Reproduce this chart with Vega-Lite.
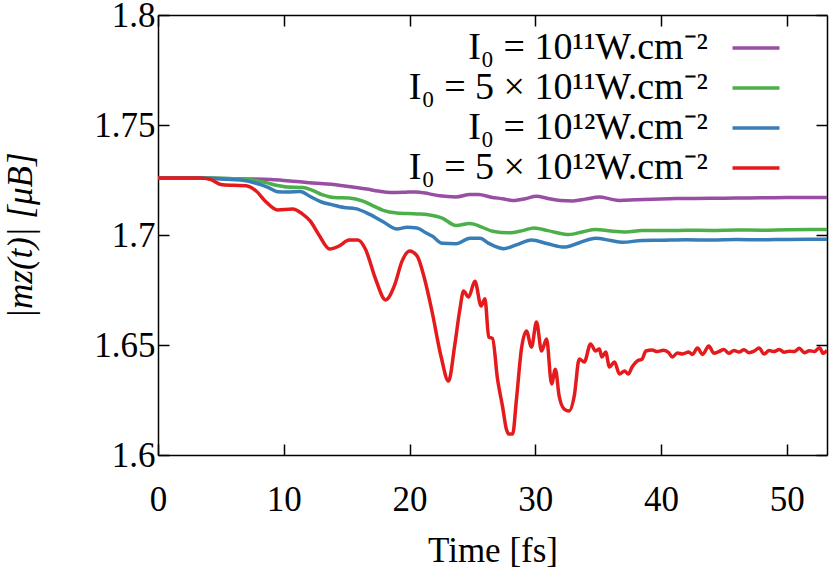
{
  "$schema": "https://vega.github.io/schema/vega-lite/v6.json",
  "width": 669,
  "height": 440,
  "autosize": {"type": "none"},
  "padding": {"left": 158, "top": 15, "right": 2, "bottom": 115},
  "background": "white",
  "config": {
    "view": {"stroke": null},
    "font": "Liberation Serif",
    "axis": {"grid": false, "domainColor": "black", "domainWidth": 1.5, "tickColor": "black", "tickWidth": 1.5, "labelColor": "black", "titleColor": "black", "labelFont": "Liberation Serif", "titleFont": "Liberation Serif", "labelFontSize": 35, "titleFontSize": 35, "titleFontWeight": "normal"}
  },
  "data": {"values": [
    {"s": "P", "t": 0, "v": 1.7259}, {"s": "P", "t": 3, "v": 1.7259}, {"s": "P", "t": 5, "v": 1.7257}, {"s": "P", "t": 7, "v": 1.7255}, {"s": "P", "t": 9, "v": 1.7252}, {"s": "P", "t": 10, "v": 1.7248}, {"s": "P", "t": 11, "v": 1.7243}, {"s": "P", "t": 12, "v": 1.7238}, {"s": "P", "t": 13.5, "v": 1.7232}, {"s": "P", "t": 15, "v": 1.7222}, {"s": "P", "t": 16.6, "v": 1.7209}, {"s": "P", "t": 17.5, "v": 1.72}, {"s": "P", "t": 18.5, "v": 1.7193}, {"s": "P", "t": 19.5, "v": 1.7194}, {"s": "P", "t": 20.5, "v": 1.7196}, {"s": "P", "t": 21.5, "v": 1.7188}, {"s": "P", "t": 22.4, "v": 1.7178}, {"s": "P", "t": 23.7, "v": 1.7173}, {"s": "P", "t": 24.8, "v": 1.7184}, {"s": "P", "t": 25.5, "v": 1.7184}, {"s": "P", "t": 26.5, "v": 1.7172}, {"s": "P", "t": 27.5, "v": 1.7164}, {"s": "P", "t": 28.2, "v": 1.7157}, {"s": "P", "t": 29.2, "v": 1.7165}, {"s": "P", "t": 30.1, "v": 1.7176}, {"s": "P", "t": 31, "v": 1.7166}, {"s": "P", "t": 32, "v": 1.7157}, {"s": "P", "t": 33, "v": 1.7155}, {"s": "P", "t": 34, "v": 1.7163}, {"s": "P", "t": 35.1, "v": 1.7173}, {"s": "P", "t": 36, "v": 1.7163}, {"s": "P", "t": 36.7, "v": 1.7157}, {"s": "P", "t": 38, "v": 1.716}, {"s": "P", "t": 40, "v": 1.7164}, {"s": "P", "t": 42, "v": 1.7166}, {"s": "P", "t": 44, "v": 1.7167}, {"s": "P", "t": 46, "v": 1.7168}, {"s": "P", "t": 48, "v": 1.7169}, {"s": "P", "t": 50, "v": 1.717}, {"s": "P", "t": 53.2, "v": 1.7171},
    {"s": "G", "t": 0, "v": 1.7259}, {"s": "G", "t": 4, "v": 1.7259}, {"s": "G", "t": 6, "v": 1.7256}, {"s": "G", "t": 7.5, "v": 1.725}, {"s": "G", "t": 8.6, "v": 1.7238}, {"s": "G", "t": 9.5, "v": 1.7225}, {"s": "G", "t": 10.3, "v": 1.7218}, {"s": "G", "t": 11.5, "v": 1.7216}, {"s": "G", "t": 12.2, "v": 1.7205}, {"s": "G", "t": 13.1, "v": 1.7182}, {"s": "G", "t": 14, "v": 1.717}, {"s": "G", "t": 15.2, "v": 1.7168}, {"s": "G", "t": 16.3, "v": 1.7154}, {"s": "G", "t": 17.2, "v": 1.713}, {"s": "G", "t": 17.9, "v": 1.7112}, {"s": "G", "t": 19, "v": 1.71}, {"s": "G", "t": 20.6, "v": 1.7096}, {"s": "G", "t": 21.5, "v": 1.7092}, {"s": "G", "t": 22.6, "v": 1.7077}, {"s": "G", "t": 23.7, "v": 1.7043}, {"s": "G", "t": 24.8, "v": 1.7052}, {"s": "G", "t": 25.8, "v": 1.7035}, {"s": "G", "t": 26.6, "v": 1.7017}, {"s": "G", "t": 27.9, "v": 1.701}, {"s": "G", "t": 29, "v": 1.702}, {"s": "G", "t": 29.9, "v": 1.7032}, {"s": "G", "t": 31, "v": 1.702}, {"s": "G", "t": 32.7, "v": 1.7002}, {"s": "G", "t": 33.8, "v": 1.7015}, {"s": "G", "t": 34.8, "v": 1.7025}, {"s": "G", "t": 36, "v": 1.7018}, {"s": "G", "t": 37.2, "v": 1.7014}, {"s": "G", "t": 38.5, "v": 1.702}, {"s": "G", "t": 40, "v": 1.702}, {"s": "G", "t": 42, "v": 1.7022}, {"s": "G", "t": 44, "v": 1.7021}, {"s": "G", "t": 46, "v": 1.7023}, {"s": "G", "t": 48, "v": 1.7022}, {"s": "G", "t": 50, "v": 1.7024}, {"s": "G", "t": 53.2, "v": 1.7025},
    {"s": "B", "t": 0, "v": 1.7259}, {"s": "B", "t": 3.4, "v": 1.7259}, {"s": "B", "t": 5, "v": 1.7255}, {"s": "B", "t": 6.6, "v": 1.725}, {"s": "B", "t": 7.8, "v": 1.7235}, {"s": "B", "t": 8.7, "v": 1.7218}, {"s": "B", "t": 9.5, "v": 1.7197}, {"s": "B", "t": 10.3, "v": 1.7195}, {"s": "B", "t": 11.3, "v": 1.7198}, {"s": "B", "t": 12.1, "v": 1.7175}, {"s": "B", "t": 13, "v": 1.715}, {"s": "B", "t": 13.8, "v": 1.7138}, {"s": "B", "t": 14.8, "v": 1.7125}, {"s": "B", "t": 15.7, "v": 1.712}, {"s": "B", "t": 16.8, "v": 1.7095}, {"s": "B", "t": 17.9, "v": 1.706}, {"s": "B", "t": 19, "v": 1.7027}, {"s": "B", "t": 19.8, "v": 1.7035}, {"s": "B", "t": 20.6, "v": 1.7032}, {"s": "B", "t": 21.3, "v": 1.701}, {"s": "B", "t": 21.8, "v": 1.6995}, {"s": "B", "t": 22.6, "v": 1.6962}, {"s": "B", "t": 23.7, "v": 1.696}, {"s": "B", "t": 24.8, "v": 1.6985}, {"s": "B", "t": 25.6, "v": 1.6985}, {"s": "B", "t": 26.3, "v": 1.6962}, {"s": "B", "t": 27.5, "v": 1.6938}, {"s": "B", "t": 28.5, "v": 1.6955}, {"s": "B", "t": 29.7, "v": 1.6977}, {"s": "B", "t": 31, "v": 1.696}, {"s": "B", "t": 32.3, "v": 1.6945}, {"s": "B", "t": 33.5, "v": 1.6965}, {"s": "B", "t": 34.8, "v": 1.6985}, {"s": "B", "t": 36, "v": 1.6975}, {"s": "B", "t": 36.9, "v": 1.6967}, {"s": "B", "t": 38.5, "v": 1.6975}, {"s": "B", "t": 40, "v": 1.6976}, {"s": "B", "t": 42, "v": 1.6978}, {"s": "B", "t": 44, "v": 1.6977}, {"s": "B", "t": 46, "v": 1.6979}, {"s": "B", "t": 48, "v": 1.6978}, {"s": "B", "t": 50, "v": 1.698}, {"s": "B", "t": 53.2, "v": 1.6981},
    {"s": "R", "t": 0, "v": 1.7259}, {"s": "R", "t": 3.3, "v": 1.7259}, {"s": "R", "t": 4.2, "v": 1.7252}, {"s": "R", "t": 5, "v": 1.723}, {"s": "R", "t": 6, "v": 1.7226}, {"s": "R", "t": 7, "v": 1.7224}, {"s": "R", "t": 7.8, "v": 1.72}, {"s": "R", "t": 8.6, "v": 1.715}, {"s": "R", "t": 9.5, "v": 1.7114}, {"s": "R", "t": 10.7, "v": 1.7118}, {"s": "R", "t": 11.5, "v": 1.7095}, {"s": "R", "t": 12.1, "v": 1.7064}, {"s": "R", "t": 12.8, "v": 1.7}, {"s": "R", "t": 13.65, "v": 1.6936}, {"s": "R", "t": 14.4, "v": 1.695}, {"s": "R", "t": 15.2, "v": 1.6977}, {"s": "R", "t": 15.9, "v": 1.6977}, {"s": "R", "t": 16.5, "v": 1.6935}, {"s": "R", "t": 17.3, "v": 1.68}, {"s": "R", "t": 18.1, "v": 1.6705}, {"s": "R", "t": 18.8, "v": 1.677}, {"s": "R", "t": 19.4, "v": 1.688}, {"s": "R", "t": 20, "v": 1.6927}, {"s": "R", "t": 20.6, "v": 1.6905}, {"s": "R", "t": 21.2, "v": 1.68}, {"s": "R", "t": 21.8, "v": 1.665}, {"s": "R", "t": 22.5, "v": 1.645}, {"s": "R", "t": 23.1, "v": 1.6336}, {"s": "R", "t": 23.6, "v": 1.65}, {"s": "R", "t": 24, "v": 1.666}, {"s": "R", "t": 24.3, "v": 1.6745}, {"s": "R", "t": 24.7, "v": 1.6718}, {"s": "R", "t": 25.2, "v": 1.679}, {"s": "R", "t": 25.7, "v": 1.6677}, {"s": "R", "t": 26, "v": 1.671}, {"s": "R", "t": 26.3, "v": 1.6536}, {"s": "R", "t": 26.6, "v": 1.653}, {"s": "R", "t": 27, "v": 1.6345}, {"s": "R", "t": 27.4, "v": 1.622}, {"s": "R", "t": 27.7, "v": 1.6118}, {"s": "R", "t": 27.9, "v": 1.6095}, {"s": "R", "t": 28.2, "v": 1.6095}, {"s": "R", "t": 28.5, "v": 1.625}, {"s": "R", "t": 28.9, "v": 1.6482}, {"s": "R", "t": 29.3, "v": 1.6564}, {"s": "R", "t": 29.7, "v": 1.649}, {"s": "R", "t": 30.1, "v": 1.6605}, {"s": "R", "t": 30.5, "v": 1.6473}, {"s": "R", "t": 30.9, "v": 1.6527}, {"s": "R", "t": 31.3, "v": 1.6323}, {"s": "R", "t": 31.6, "v": 1.639}, {"s": "R", "t": 31.9, "v": 1.6268}, {"s": "R", "t": 32.3, "v": 1.6209}, {"s": "R", "t": 32.7, "v": 1.62}, {"s": "R", "t": 33.1, "v": 1.6268}, {"s": "R", "t": 33.5, "v": 1.6436}, {"s": "R", "t": 33.9, "v": 1.6423}, {"s": "R", "t": 34.4, "v": 1.6505}, {"s": "R", "t": 34.8, "v": 1.6473}, {"s": "R", "t": 35.1, "v": 1.6482}, {"s": "R", "t": 35.3, "v": 1.6445}, {"s": "R", "t": 35.6, "v": 1.6468}, {"s": "R", "t": 35.9, "v": 1.64}, {"s": "R", "t": 36.3, "v": 1.6423}, {"s": "R", "t": 36.7, "v": 1.6368}, {"s": "R", "t": 37.1, "v": 1.6382}, {"s": "R", "t": 37.4, "v": 1.6368}, {"s": "R", "t": 37.7, "v": 1.64}, {"s": "R", "t": 38.1, "v": 1.6427}, {"s": "R", "t": 38.5, "v": 1.6436}, {"s": "R", "t": 38.8, "v": 1.6473}, {"s": "R", "t": 39.3, "v": 1.6477}, {"s": "R", "t": 39.7, "v": 1.647}, {"s": "R", "t": 40.2, "v": 1.6476}, {"s": "R", "t": 40.6, "v": 1.6466}, {"s": "R", "t": 40.9, "v": 1.6445}, {"s": "R", "t": 41.3, "v": 1.6464}, {"s": "R", "t": 41.7, "v": 1.6459}, {"s": "R", "t": 42.2, "v": 1.6468}, {"s": "R", "t": 42.5, "v": 1.6457}, {"s": "R", "t": 42.9, "v": 1.6486}, {"s": "R", "t": 43.3, "v": 1.6457}, {"s": "R", "t": 43.8, "v": 1.6495}, {"s": "R", "t": 44.2, "v": 1.6463}, {"s": "R", "t": 44.6, "v": 1.647}, {"s": "R", "t": 45, "v": 1.648}, {"s": "R", "t": 45.4, "v": 1.6462}, {"s": "R", "t": 45.8, "v": 1.6475}, {"s": "R", "t": 46.2, "v": 1.6468}, {"s": "R", "t": 46.6, "v": 1.6478}, {"s": "R", "t": 47, "v": 1.6465}, {"s": "R", "t": 47.4, "v": 1.6472}, {"s": "R", "t": 47.8, "v": 1.6486}, {"s": "R", "t": 48.2, "v": 1.6459}, {"s": "R", "t": 48.6, "v": 1.6475}, {"s": "R", "t": 49, "v": 1.647}, {"s": "R", "t": 49.4, "v": 1.648}, {"s": "R", "t": 49.8, "v": 1.6467}, {"s": "R", "t": 50.2, "v": 1.6472}, {"s": "R", "t": 50.6, "v": 1.647}, {"s": "R", "t": 51, "v": 1.6485}, {"s": "R", "t": 51.4, "v": 1.6465}, {"s": "R", "t": 51.8, "v": 1.6474}, {"s": "R", "t": 52.2, "v": 1.647}, {"s": "R", "t": 52.6, "v": 1.6488}, {"s": "R", "t": 52.9, "v": 1.6462}, {"s": "R", "t": 53.2, "v": 1.6475}
  ]},
  "layer": [
    {
      "mark": {"type": "line", "strokeWidth": 3.5, "clip": true, "interpolate": "monotone"},
      "encoding": {
        "x": {"field": "t", "type": "quantitative", "scale": {"domain": [0, 53.2], "nice": false, "zero": false},
          "axis": {"orient": "bottom", "values": [0, 10, 20, 30, 40, 50], "tickSize": -11, "labelPadding": 38, "title": "Time [fs]", "titlePadding": 16, "labelFlush": false}},
        "y": {"field": "v", "type": "quantitative", "scale": {"domain": [1.6, 1.8], "nice": false, "zero": false},
          "axis": {"orient": "left", "values": [1.6, 1.65, 1.7, 1.75, 1.8], "format": "~g", "tickSize": -11, "labelPadding": 14, "title": "|mz(t)| [μB]", "titleFontStyle": "italic", "titleX": -138, "titleY": 220, "titleAlign": "center", "titleBaseline": "middle", "labelFlush": false}},
        "color": {"field": "s", "type": "nominal", "sort": ["P", "G", "B", "R"],
          "scale": {"domain": ["P", "G", "B", "R"], "range": ["#984ea3", "#4daf4a", "#377eb8", "#e41a1c"]},
          "legend": {"orient": "none", "legendX": 579, "legendY": 14, "title": null, "padding": 0,
            "symbolType": "M-2,0H2", "symbolSize": 552, "symbolStrokeWidth": 3.5, "symbolFillColor": "transparent", "gridAlign": "all",
            "labelFont": "Liberation Serif", "labelFontSize": 38, "labelColor": "black", "labelAlign": "right", "labelOffset": -67, "rowPadding": 2, "labelLimit": 600,
            "labelExpr": "datum.value == 'P' ? 'I₀ = 10¹¹W.cm⁻²' : datum.value == 'G' ? 'I₀ = 5 × 10¹¹W.cm⁻²' : datum.value == 'B' ? 'I₀ = 10¹²W.cm⁻²' : 'I₀ = 5 × 10¹²W.cm⁻²'"}}
      }
    },
    {
      "mark": {"type": "line", "strokeOpacity": 0},
      "encoding": {
        "x": {"field": "t", "type": "quantitative", "axis": {"orient": "top", "values": [0, 10, 20, 30, 40, 50], "tickSize": -11, "labels": false, "title": null}},
        "y": {"field": "v", "type": "quantitative", "axis": {"orient": "right", "values": [1.6, 1.65, 1.7, 1.75, 1.8], "tickSize": -11, "labels": false, "title": null}}
      }
    }
  ]
}
